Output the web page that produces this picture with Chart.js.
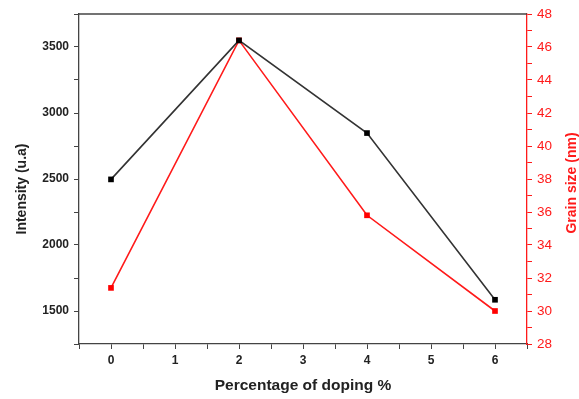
<!DOCTYPE html>
<html>
<head>
<meta charset="utf-8">
<script src="https://cdn.jsdelivr.net/npm/chart.js@4"></script>
<style>
  html, body { margin: 0; padding: 0; background: #fff; }
  #wrap { width: 579px; height: 399px; }
</style>
</head>
<body>
<div id="wrap"><canvas id="chart" width="579" height="399"></canvas></div>
<script>
// doping percentage (x) and the two measured series
const doping = [0, 2, 4, 6];
const intensity = [2497, 3550, 2848, 1585];
const grainSize = [31.4, 46.4, 35.8, 30.0];

const FONT = '"Liberation Sans", Arial, sans-serif';
const RED = '#ff1a1a';

// top frame line + both y titles (both read bottom-to-top in the original)
const frameAndTitles = {
  id: 'frameAndTitles',
  afterDraw(chart) {
    const a = chart.chartArea, c = chart.ctx;
    c.save();
    c.strokeStyle = '#444';
    c.lineWidth = 1.3;
    c.beginPath();
    c.moveTo(a.left, a.top);
    c.lineTo(a.right, a.top);
    c.stroke();

    c.font = 'bold 14px ' + FONT;
    c.textAlign = 'center';
    c.textBaseline = 'middle';

    c.save();
    c.translate(22, 189);
    c.rotate(-Math.PI / 2);
    c.fillStyle = '#222';
    c.fillText('Intensity (u.a)', 0, 0);
    c.restore();

    c.save();
    c.translate(572, 183);
    c.rotate(-Math.PI / 2);
    c.fillStyle = RED;
    c.fillText('Grain size (nm)', 0, 0);
    c.restore();

    c.restore();
  }
};

new Chart(document.getElementById('chart'), {
  type: 'line',
  data: {
    datasets: [{
      label: 'Intensity',
      data: doping.map((x, i) => ({ x, y: intensity[i] })),
      yAxisID: 'y',
      borderColor: '#333',
      backgroundColor: '#000',
      borderWidth: 1.6,
      pointStyle: 'rect',
      pointRadius: 4,
      pointBorderWidth: 0,
      tension: 0
    }, {
      label: 'Grain size',
      data: doping.map((x, i) => ({ x, y: grainSize[i] })),
      yAxisID: 'y2',
      borderColor: RED,
      backgroundColor: '#ff0000',
      borderWidth: 1.6,
      pointStyle: 'rect',
      pointRadius: 4,
      pointBorderWidth: 0,
      tension: 0
    }]
  },
  options: {
    responsive: false,
    animation: false,
    layout: { padding: { top: 14, left: 0, right: 0, bottom: 0 } },
    plugins: { legend: { display: false }, tooltip: { enabled: false } },
    scales: {
      x: {
        type: 'linear',
        min: -0.5, max: 6.5,
        afterFit: s => { s.height = 55; },
        border: { color: '#444', width: 1.3 },
        grid: { drawOnChartArea: false, tickLength: 5, color: '#444' },
        ticks: {
          stepSize: 0.5,
          autoSkip: false,
          maxRotation: 0,
          padding: 4,
          color: '#222',
          font: { family: FONT, size: 12, weight: 'bold' },
          callback: v => Number.isInteger(v) ? v : ''
        },
        title: {
          display: true,
          text: 'Percentage of doping %',
          color: '#222',
          font: { family: FONT, size: 15.5, weight: 'bold' },
          padding: { top: 10 }
        }
      },
      y: {
        position: 'left',
        min: 1250, max: 3750,
        afterFit: s => { s.width = 79; },
        border: { color: '#444', width: 1.3 },
        grid: { drawOnChartArea: false, tickLength: 5, color: '#444' },
        ticks: {
          stepSize: 250,
          autoSkip: false,
          padding: 5,
          color: '#222',
          font: { family: FONT, size: 12, weight: 'bold' },
          callback: v => v % 500 === 0 && v >= 1500 && v <= 3500 ? v : ''
        }
      },
      y2: {
        position: 'right',
        min: 28, max: 48,
        afterFit: s => { s.width = 52; },
        border: { color: RED, width: 1.3 },
        grid: { drawOnChartArea: false, tickLength: 5, color: RED },
        ticks: {
          stepSize: 1,
          autoSkip: false,
          padding: 5,
          color: RED,
          font: { family: FONT, size: 13.5 },
          callback: v => v % 2 === 0 ? v : ''
        }
      }
    }
  },
  plugins: [frameAndTitles]
});
</script>
</body>
</html>
